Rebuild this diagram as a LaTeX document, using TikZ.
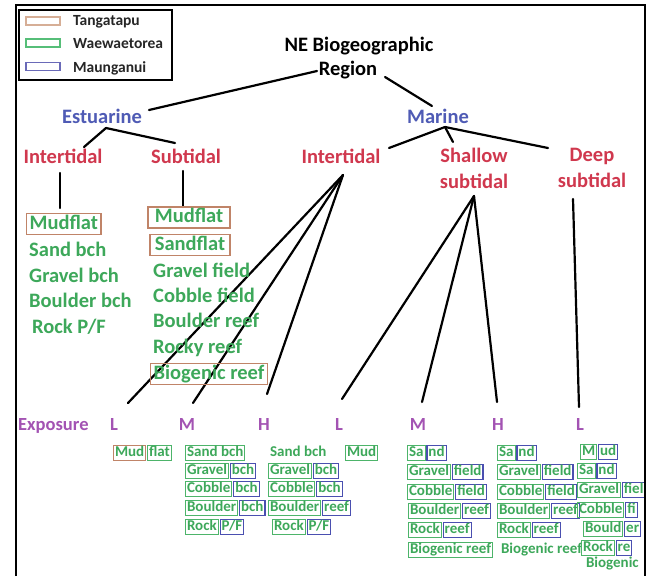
\documentclass[tikz,border=0pt]{standalone}
\usepackage{fontspec}
\setmainfont{Carlito}
\usetikzlibrary{calc}
\definecolor{redc}{HTML}{D0384E}
\definecolor{bluec}{HTML}{4F5BB5}
\definecolor{greenc}{HTML}{3DA85A}
\definecolor{purc}{HTML}{A353B3}
\definecolor{tanc}{HTML}{C08468}
\definecolor{boxblue}{HTML}{4A4FB0}
\definecolor{boxgreen}{HTML}{4DB46A}
\definecolor{lgtan}{HTML}{D6AE96}
\definecolor{lggreen}{HTML}{56BE78}
\definecolor{lgblue}{HTML}{6A6AB8}
\newcommand\twobox[7]{%
  \node[#6] (#1a) at (#2,#3) {#4};
  \node[#7] (#1b) at ([xshift=0.8pt]#1a.east) {#5};}
\begin{document}
\begin{tikzpicture}[x=1pt,y=-1pt,
  conn/.style={line width=2.2pt,line cap=round},
  big/.style={font=\bfseries\fontsize{20.5}{26}\selectfont,inner sep=0pt},
  hdr/.style={big,text height=13.3pt,text depth=0pt},
  hblue/.style={hdr,text=bluec},
  hred/.style={hdr,text=redc},
  hred2/.style={big,text=redc,align=center},
  item/.style={hdr,text=greenc,anchor=west},
  titem/.style={big,text=greenc,draw=tanc,line width=1.3pt,inner xsep=3pt,inner ysep=1pt,text height=14.6pt,text depth=4.2pt},
  expo/.style={font=\bfseries\fontsize{18.5}{22}\selectfont,text=purc,inner sep=0pt,text height=12pt,text depth=0pt},
  sm/.style={font=\bfseries\fontsize{15}{18}\selectfont,text=greenc,inner xsep=1.5pt,inner ysep=1pt,text height=10.6pt,text depth=2.8pt,line width=1.1pt,anchor=west},
  pl/.style={sm},
  gb/.style={sm,draw=boxgreen},
  bb/.style={sm,draw=boxblue},
  tb/.style={sm,draw=tanc},
  lgsw/.style={draw,line width=1.3pt,minimum width=34pt,minimum height=8pt,inner sep=0pt},
  lgtx/.style={font=\bfseries\fontsize{15.5}{18}\selectfont,text=black!85,anchor=west,inner sep=0pt,text height=10pt,text depth=0pt}
]
\fill[white] (0,0) rectangle (652,576);
\useasboundingbox (0,0) rectangle (652,576);

% legend
\draw[line width=1.3pt] (19,10) rectangle (172,80);
\node[lgsw,draw=lgtan] (sw1) at (43,21) {};
\node[lgsw,draw=lggreen] (sw2) at (43,43) {};
\node[lgsw,draw=lgblue] (sw3) at (43,66.5) {};
\node[lgtx] (lg1) at (73,20) {Tangatapu};
\node[lgtx] (lg2) at (73,43) {Waewaetorea};
\node[lgtx] (lg3) at (73,67) {Maunganui};

% headings
\node[hdr,text=black] (t1) at (359,45) {NE Biogeographic};
\node[hdr,text=black] (t2) at (348,69) {Region};
\node[hblue] (est) at (102,117) {Estuarine};
\node[hblue] (mar) at (438,117) {Marine};
\node[hred] (eint) at (63,157) {Intertidal};
\node[hred] (esub) at (186,157) {Subtidal};
\node[hred] (mint) at (341,157) {Intertidal};
\node[hred2] (shal) at (474,168) {Shallow\\subtidal};
\node[hred2] (deep) at (592,168) {Deep\\subtidal};

% connector end points
\coordinate (t2a) at (317,71);
\coordinate (t2b) at (385,77);
\coordinate (esta) at (149,110);
\coordinate (mara) at (432,106);
\coordinate (estb) at (106,128);
\coordinate (eintt) at (84,147);
\coordinate (esubt) at (175,143);
\coordinate (marb) at (445,127);
\coordinate (mintt) at (389,148);
\coordinate (shalt) at (453,142);
\coordinate (deept) at (548,148);
\coordinate (eintb) at (60,173);
\coordinate (emudt) at (60,208);
\coordinate (esubb) at (183,171);
\coordinate (smudt) at (183,207);
\coordinate (mintb) at (343,175);
\coordinate (shalb) at (474,196);
\coordinate (deepb) at (573,199);
\coordinate (x1) at (128,403);
\coordinate (x2) at (193,403);
\coordinate (x3) at (267,394);
\coordinate (x4) at (342,399);
\coordinate (x5) at (422,402);
\coordinate (x6) at (497,402);
\coordinate (x7) at (579,407);

\draw[conn] (t2a) -- (esta);
\draw[conn] (t2b) -- (mara);
\draw[conn] (estb) -- (eintt);
\draw[conn] (estb) -- (esubt);
\draw[conn] (marb) -- (mintt);
\draw[conn] (marb) -- (shalt);
\draw[conn] (marb) -- (deept);
\draw[conn] (eintb) -- (emudt);
\draw[conn] (esubb) -- (smudt);
\draw[conn] (mintb) -- (x1);
\draw[conn] (mintb) -- (x2);
\draw[conn] (mintb) -- (x3);
\draw[conn] (shalb) -- (x4);
\draw[conn] (shalb) -- (x5);
\draw[conn] (shalb) -- (x6);
\draw[conn] (deepb) -- (x7);

% estuarine lists
\node[titem,anchor=west] (e1) at (26,224) {Mudflat};
\node[item] (e2) at (29,250) {Sand bch};
\node[item] (e3) at (29,276) {Gravel bch};
\node[item] (e4) at (29,301) {Boulder bch};
\node[item] (e5) at (32,327) {Rock P/F};

\node[titem,minimum width=82pt] (s1) at (189,217.5) {Mudflat};
\node[titem,minimum width=80pt] (s2) at (190,245) {Sandflat};
\node[item] (s3) at (153,271) {Gravel field};
\node[item] (s4) at (153,296) {Cobble field};
\node[item] (s5) at (153,321) {Boulder reef};
\node[item] (s6) at (153,347) {Rocky reef};
\node[titem,anchor=west] (s7) at (150,374) {Biogenic reef};

% exposure row
\node[expo,anchor=west] (ex) at (18,424) {Exposure};
\node[expo] (L1) at (114,424) {L};
\node[expo] (M1) at (187,424) {M};
\node[expo] (H1) at (264,424) {H};
\node[expo] (L2) at (339,424) {L};
\node[expo] (M2) at (418,424) {M};
\node[expo] (H2) at (498,424) {H};
\node[expo] (L3) at (580,424) {L};

% marine intertidal
\twobox{ml}{113}{453}{Mud}{flat}{tb}{gb}
\node[gb] (mm1) at (185,453) {Sand bch};
\twobox{mmb}{185}{471}{Gravel}{bch}{gb}{bb}
\twobox{mmc}{185}{489}{Cobble}{bch}{gb}{bb}
\twobox{mmd}{185}{508}{Boulder}{bch}{gb}{bb}
\twobox{mme}{185}{527}{Rock}{P/F}{gb}{bb}
\node[pl] (mh1) at (268,453) {Sand bch};
\node[gb] (mh1m) at (345,453) {Mud};
\twobox{mhb}{268}{471}{Gravel}{bch}{gb}{bb}
\twobox{mhc}{268}{489}{Cobble}{bch}{gb}{bb}
\twobox{mhd}{268}{508}{Boulder}{reef}{gb}{bb}
\twobox{mhe}{272}{527}{Rock}{P/F}{gb}{bb}

% shallow subtidal
\twobox{sma}{407}{453}{Sa}{nd}{gb}{bb}
\twobox{smb}{407}{472}{Gravel}{field}{gb}{bb}
\twobox{smc}{407}{492}{Cobble}{field}{gb}{bb}
\twobox{smd}{408}{511}{Boulder}{reef}{gb}{bb}
\twobox{sme}{408}{530}{Rock}{reef}{gb}{bb}
\node[gb] (smf) at (408,550) {Biogenic reef};
\twobox{sha}{497}{453}{Sa}{nd}{gb}{bb}
\twobox{shb}{497}{472}{Gravel}{field}{gb}{bb}
\twobox{shc}{497}{492}{Cobble}{field}{gb}{bb}
\twobox{shd}{497}{511}{Boulder}{reef}{gb}{bb}
\twobox{she}{497}{530}{Rock}{reef}{gb}{bb}
\node[pl] (shf) at (499,550) {Biogenic reef};

% deep subtidal
\twobox{da}{580}{452}{M}{ud}{gb}{bb}
\twobox{db}{577}{471}{Sa}{nd}{gb}{bb}
\twobox{dc}{577}{490}{Gravel}{fiel}{gb}{bb}
\twobox{dd}{577}{510}{Cobble}{fi}{gb}{bb}
\twobox{de}{583}{529}{Bould}{er}{gb}{bb}
\twobox{df}{581}{548}{Rock}{re}{gb}{bb}
\node[pl] (dg) at (584,564) {Biogenic};

% frame
\draw[line width=1.5pt] (16,576) -- (16,5) -- (645,5) -- (645,576);
\end{tikzpicture}
\end{document}
